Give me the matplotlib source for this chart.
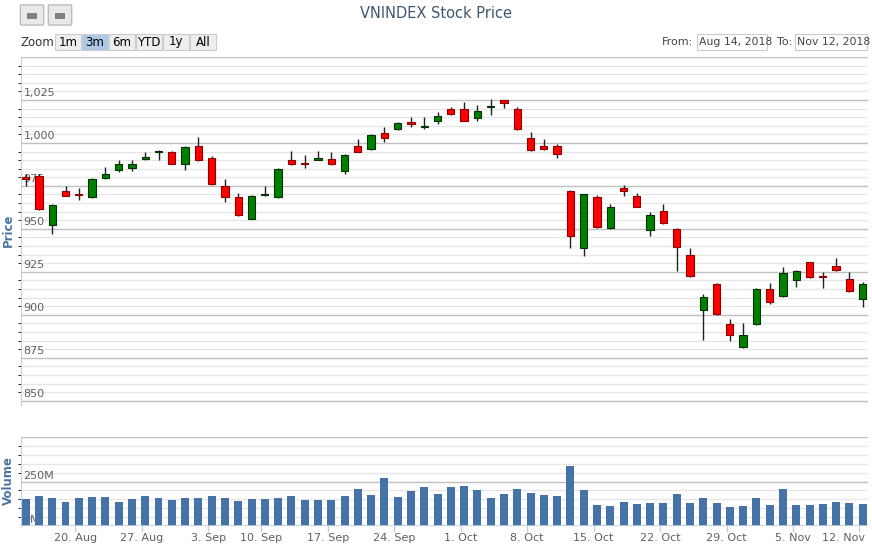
import matplotlib
matplotlib.use("Agg")
import matplotlib.pyplot as plt
from matplotlib.patches import Rectangle, FancyBboxPatch
from matplotlib.ticker import MultipleLocator

opens = [980,980.5,952,972,970.5,968.5,979.5,984,985.5,990.5,994.5,995,988,998,991,975,968.5,955.7,969.5,968.5,
         990,988.5,990.2,990.5,983.5,998.5,996.5,1006,1008,1012,1009,1012.5,1019.5,1019.5,1014.5,1021,1025,1020,1003,998.5,
         998.5,972,939,968.5,950.5,973.5,969,949.5,960.5,950,935,902.5,918,894.5,881,894.5,915,911,920.5,930.5,
         922.5,928.5,921,909]
highs = [982,982,964.5,975,974,979.5,986,990,990,995,996,995.5,998,1003.5,992.5,979,971,969.5,975,985.5,
         995.5,993,995.5,994.5,993.5,1002.5,1005,1009,1012,1015,1015,1017.8,1021,1024,1022,1025.5,1025,1021,1006.5,1002.5,
         999.5,972.5,970.5,969.5,964.5,975.3,970.7,959.8,964.5,950.5,939,912,918.5,897.5,895,915.5,918.4,928,926,931,
         925,933,925,919]
lows = [975,961,947,969,967,968,979,983,983.5,990,990,987.5,984,989.5,975.5,965.5,957.5,955.5,969,968,
        987,985.5,990,987,982,994.5,996,1000.5,1007.5,1009,1008,1011,1016.5,1012.5,1013,1016.5,1020.5,1007.5,995.5,996,
        991.5,939,934,950.5,950,969,962.5,946,953,925.5,922,885.5,900,885,880.5,894,906,910.5,916,921.5,
        915.5,925.5,913.5,904.5]
closes = [979,961.5,964,969,969.5,979,982,987.5,987.5,992,995.5,988,997.5,990,976,968.5,958,969,970,985,
          987.5,988,991.2,987.5,993,995,1004.5,1003,1011.5,1011,1009.5,1015.5,1017,1013,1018.5,1021.5,1023.5,1008,996,996.5,
          993.5,946,970,951,963,972,963,958,953.5,939.5,922.5,910.5,900.5,888.5,888.5,915,907.5,924.3,925.5,922,
          922,926,914,918]
volumes_m = [150,170,156,135,159,165,165,135,150,170,159,146,156,159,170,159,141,150,150,156,
             170,146,146,146,170,206,176,270,165,196,220,180,220,226,200,159,180,206,185,176,
             170,339,200,120,115,135,126,130,130,180,130,159,130,109,115,156,120,206,120,120,
             126,135,130,126]
date_labels = ["20. Aug","27. Aug","3. Sep","10. Sep","17. Sep","24. Sep","1. Oct","8. Oct",
               "15. Oct","22. Oct","29. Oct","5. Nov","12. Nov"]
date_label_idx = [4,9,14,18,23,28,33,38,43,48,53,58,63]

W, H = 872, 547
fig = plt.figure(figsize=(W/100, H/100), dpi=100)
def box(l, t, r, b):
    return [l/W, 1-b/H, (r-l)/W, (b-t)/H]

ax = fig.add_axes(box(21, 57, 868, 405))
axv = fig.add_axes(box(21, 437, 868, 526))

grid_c = "#e6e6e6"
major_c = "#c0c0c0"
for a in (ax, axv):
    for s in a.spines.values():
        s.set_visible(False)
    a.spines['left'].set_visible(True)
    a.spines['left'].set_color("#c0d0e0")
    a.set_xlim(-0.35, 63.4)
    a.tick_params(left=False, bottom=False, labelbottom=False, labelleft=False)

ax.set_ylim(847.5, 1050)
ax.yaxis.set_minor_locator(MultipleLocator(5))
ax.yaxis.set_major_locator(MultipleLocator(25))
ax.grid(True, which='minor', axis='y', color=grid_c, lw=1)
ax.grid(True, which='major', axis='y', color=major_c, lw=1)
ax.set_axisbelow(True)
for v in range(850, 1050, 25):
    ax.text(0.003, v + 1.2, f"{v:,}", transform=ax.get_yaxis_transform(), fontsize=8,
            color="#606060", ha='left', va='bottom', zorder=1)

w = 0.55
for i, (o, h, l, c) in enumerate(zip(opens, highs, lows, closes)):
    up = c >= o
    fc = "#008000" if up else "#ff0000"
    ec = "#003300" if up else "#8b0000"
    ax.vlines(i, l, h, color="#222222", lw=1, zorder=2)
    lo, hi = min(o, c), max(o, c)
    ax.add_patch(Rectangle((i - w/2, lo), w, max(hi - lo, 0.6), facecolor=fc,
                           edgecolor=ec, lw=0.8, zorder=3))

axv.set_ylim(0, 500)
axv.yaxis.set_minor_locator(MultipleLocator(50))
axv.yaxis.set_major_locator(MultipleLocator(250))
axv.grid(True, which='minor', axis='y', color=grid_c, lw=1)
axv.grid(True, which='major', axis='y', color=major_c, lw=1)
axv.set_axisbelow(True)
axv.bar(range(len(volumes_m)), volumes_m, width=0.6, color="#4572a7", zorder=2)
for v in (0, 250):
    axv.text(0.003, v + 5, f"{v}M", transform=axv.get_yaxis_transform(), fontsize=8,
             color="#606060", ha='left', va='bottom', zorder=1)
axv.axhline(0, color="#c0d0e0", lw=1.2, zorder=4)

for lab, idx in zip(date_labels, date_label_idx):
    xpos = idx - 0.25
    ha = 'center'
    if idx == 63:
        xpos, ha = 63.2, 'right'
    axv.text(xpos, -0.08, lab, transform=axv.get_xaxis_transform(), fontsize=8,
             color="#606060", ha=ha, va='top')
    axv.plot([idx - 0.25, idx - 0.25], [0, -0.06], transform=axv.get_xaxis_transform(),
             color="#c0d0e0", lw=1, clip_on=False)

lab_c = "#4d759e"
fig.text(8/W, 1-230/H, "Price", rotation=90, fontsize=8.5, color=lab_c, fontweight='bold',
         ha='center', va='center')
fig.text(8/W, 1-481/H, "Volume", rotation=90, fontsize=8.5, color=lab_c, fontweight='bold',
         ha='center', va='center')
fig.text(436/W, 1-14/H, "VNINDEX Stock Price", fontsize=10.5, color="#3e576f", ha='center', va='center')

# range selector
fig.text(20/W, 1-42/H, "Zoom", fontsize=8.5, color="#333333", va='center')
btns = [("1m", 55, 82), ("3m", 82, 109), ("6m", 109, 136), ("YTD", 136, 163), ("1y", 163, 190), ("All", 190, 217)]
for t, l, r in btns:
    sel = t == "3m"
    fig.patches.append(Rectangle((l/W, 1-50/H), (r-l-1)/W, 16/H, transform=fig.transFigure,
                                 facecolor="#acc8e8" if sel else "#eeeeee", edgecolor="#cccccc", lw=0.8))
    fig.text((l+r-1)/2/W, 1-42/H, t, fontsize=8.5, color="#000000", ha='center', va='center')

fig.text(693/W, 1-42/H, "From:", fontsize=8, color="#444444", ha='right', va='center')
fig.patches.append(Rectangle((697/W, 1-50/H), 70/W, 16/H, transform=fig.transFigure,
                             facecolor="white", edgecolor="#cccccc", lw=0.8))
fig.text(699/W, 1-42/H, "Aug 14, 2018", fontsize=7.8, color="#444444", ha='left', va='center')
fig.text(792/W, 1-42/H, "To:", fontsize=8, color="#444444", ha='right', va='center')
fig.patches.append(Rectangle((795/W, 1-50/H), 72/W, 16/H, transform=fig.transFigure,
                             facecolor="white", edgecolor="#cccccc", lw=0.8))
fig.text(797/W, 1-42/H, "Nov 12, 2018", fontsize=7.8, color="#444444", ha='left', va='center')

# export icons
for l in (22, 50):
    fig.patches.append(FancyBboxPatch((l/W, 1-24/H), 20/W, 18/H, boxstyle="round,pad=0.002",
                                      transform=fig.transFigure, facecolor="#e8e8e8",
                                      edgecolor="#b0b0b0", lw=0.8))
    fig.patches.append(Rectangle(((l+5)/W, 1-19/H), 10/W, 6/H, transform=fig.transFigure,
                                 facecolor="#808080", edgecolor="none"))

fig.savefig("out.png", dpi=100)
